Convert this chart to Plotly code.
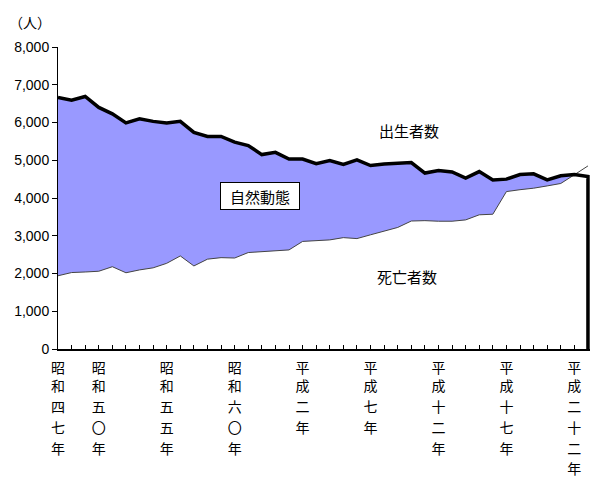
import plotly.graph_objects as go

years = [1972, 1973, 1974, 1975, 1976, 1977, 1978, 1979, 1980, 1981,
         1982, 1983, 1984, 1985, 1986, 1987, 1988, 1989, 1990, 1991,
         1992, 1993, 1994, 1995, 1996, 1997, 1998, 1999, 2000, 2001,
         2002, 2003, 2004, 2005, 2006, 2007, 2008, 2009, 2010, 2011]

births = [6660, 6590, 6690, 6400, 6230, 5990, 6100, 6030, 5990, 6030,
          5740, 5630, 5630, 5480, 5390, 5150, 5210, 5030, 5030, 4910,
          4990, 4890, 5010, 4860, 4900, 4920, 4940, 4660, 4730, 4690,
          4530, 4700, 4480, 4500, 4620, 4640, 4480, 4590, 4620, 4570]

deaths = [1940, 2025, 2040, 2060, 2180, 2020, 2095, 2150, 2270, 2465,
          2200, 2380, 2420, 2410, 2555, 2580, 2600, 2625, 2850, 2865,
          2890, 2950, 2925, 3025, 3120, 3220, 3390, 3400, 3385, 3385,
          3420, 3555, 3570, 4170, 4220, 4260, 4320, 4385, 4615, 4850]

label_years = [1972, 1975, 1980, 1985, 1990, 1995, 2000, 2005, 2010]
label_texts = ["昭和四七年", "昭和五〇年", "昭和五五年", "昭和六〇年", "平成二年",
               "平成七年", "平成十二年", "平成十七年", "平成二十二年"]

CJK = "Noto Sans CJK JP"
XRANGE = [1972, 2011.15]
ROW_STANDOFFS = [5, 27, 48, 69, 90, 110]   # one row of vertical label characters per axis
n_rows = max(len(t) for t in label_texts)

fig = go.Figure()
# births area
fig.add_trace(go.Scatter(x=years, y=births, mode="lines", fill="tozeroy",
                         fillcolor="#9999FF", line=dict(width=0, color="#9999FF"),
                         hoverinfo="skip", showlegend=False))
# deaths area (white)
fig.add_trace(go.Scatter(x=years, y=deaths, mode="lines", fill="tozeroy",
                         fillcolor="#FFFFFF", line=dict(width=1, color="#444444"),
                         hoverinfo="skip", showlegend=False))
# births border line (with drop to baseline at the end)
fig.add_trace(go.Scatter(x=years + [years[-1]], y=births + [0], mode="lines",
                         line=dict(width=3.5, color="#000000"),
                         hoverinfo="skip", showlegend=False))

axes = {}
for k in range(n_rows):
    ticktext = []
    for y in years:
        if y in label_years:
            t = label_texts[label_years.index(y)]
            ticktext.append(t[k] if k < len(t) else "")
        else:
            ticktext.append("")
    common = dict(range=XRANGE, tickmode="array", tickvals=years, ticktext=ticktext,
                  showgrid=False, zeroline=False, tickangle=0, automargin=False,
                  ticklabelstandoff=ROW_STANDOFFS[k],
                  tickfont=dict(family=CJK, size=14, color="black"))
    if k == 0:
        axes["xaxis"] = dict(common, ticks="inside", ticklen=4, tickcolor="black",
                             showline=True, linecolor="black", linewidth=2,
                             layer="above traces")
    else:
        name = "x%d" % (k + 1)
        axes["xaxis%d" % (k + 1)] = dict(common, overlaying="x", anchor="y",
                                         side="bottom", ticks="", showline=False)
        fig.add_trace(go.Scatter(x=[years[0]], y=[None], xaxis=name, mode="lines",
                                 hoverinfo="skip", showlegend=False))

fig.update_layout(
    width=590, height=484,
    margin=dict(l=58, r=0, t=47, b=135),
    paper_bgcolor="white", plot_bgcolor="white",
    showlegend=False,
    yaxis=dict(range=[0, 8000], dtick=1000, tickformat=",d", ticks="outside",
               ticklen=5, tickcolor="black", showline=True, linecolor="black",
               linewidth=1, showgrid=False, zeroline=False, layer="above traces",
               automargin=False,
               tickfont=dict(family="Liberation Sans", size=14, color="black")),
    annotations=[
        dict(text="（人）", xref="paper", yref="paper", x=-0.095, y=1.083,
             xanchor="left", yanchor="middle", showarrow=False,
             font=dict(family=CJK, size=14, color="black")),
        dict(text="出生者数", xref="x", yref="y", x=1997.8, y=5780,
             showarrow=False, font=dict(family=CJK, size=15, color="black")),
        dict(text="死亡者数", xref="x", yref="y", x=1997.7, y=1910,
             showarrow=False, font=dict(family=CJK, size=15, color="black")),
        dict(text="自然動態", xref="x", yref="y", x=1986.9, y=4060,
             showarrow=False, bgcolor="white", bordercolor="black",
             borderwidth=1, borderpad=3, width=72, height=20,
             font=dict(family=CJK, size=15, color="black")),
    ],
)
fig.update_layout(**axes)

fig.write_html("out.html", config={"displayModeBar": False},
               post_script="document.body.style.margin='0';")
